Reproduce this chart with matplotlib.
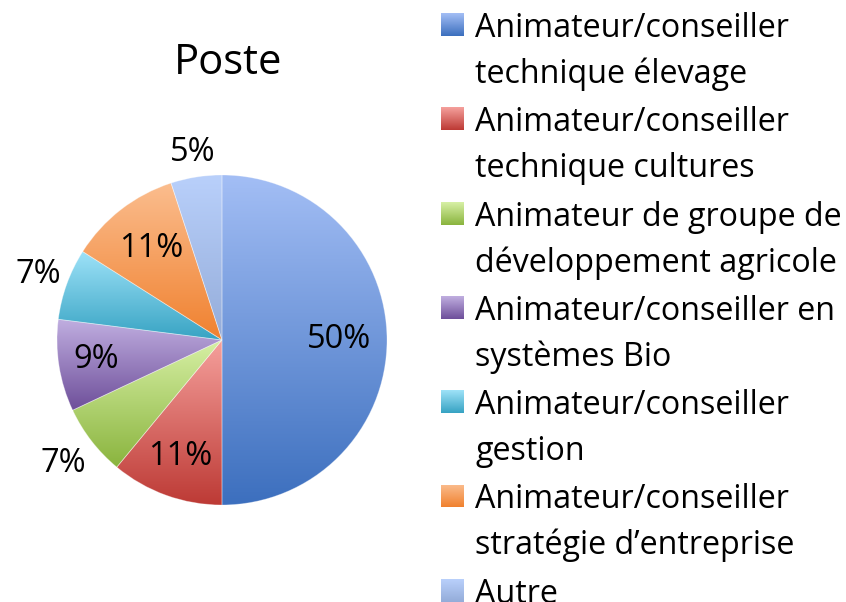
import numpy as np
import matplotlib
matplotlib.use('Agg')
import matplotlib.pyplot as plt
from matplotlib.colors import LinearSegmentedColormap

# Données
categories = [
    "Animateur/conseiller\ntechnique élevage",
    "Animateur/conseiller\ntechnique cultures",
    "Animateur de groupe de\ndéveloppement agricole",
    "Animateur/conseiller en\nsystèmes Bio",
    "Animateur/conseiller\ngestion",
    "Animateur/conseiller\nstratégie d’entreprise",
    "Autre",
]
values = [50, 11, 7, 9, 7, 11, 5]
# dégradés (haut, bas) façon Excel
top_colors = ['#a3bef5', '#f5a09c', '#d7f0a5', '#c0aee0', '#9ee2f8', '#fbbd8e', '#b9d0fb']
bottom_colors = ['#3c6fbe', '#bd3a35', '#8ab43e', '#6e4f9a', '#37a3c3', '#f0812f', '#94acd9']
label_dist = [0.71, 0.75, 1.22, 0.77, 1.18, 0.70, 1.15]

plt.rcParams['font.family'] = ['Open Sans', 'DejaVu Sans']

W, H = 846, 602
fig = plt.figure(figsize=(W / 100, H / 100), dpi=100)

def px(x, y):
    return x / W, 1 - y / H

# axe du camembert : centre (222, 340), rayon 165 px
cx, cy, r = 222, 340, 165
ax = fig.add_axes([(cx - r) / W, (H - cy - r) / H, 2 * r / W, 2 * r / H])
ax.axis('off')

wedges, _ = ax.pie(values, startangle=90, counterclock=False, radius=1,
                   wedgeprops=dict(linewidth=0))

grad = np.linspace(0, 1, 256).reshape(-1, 1)
for w, c0, c1 in zip(wedges, top_colors, bottom_colors):
    w.set_facecolor('none')
    bb = w.get_path().get_extents()
    cmap = LinearSegmentedColormap.from_list('g', [c1, c0])
    im = ax.imshow(grad, cmap=cmap, aspect='auto', origin='lower',
                   extent=[bb.x0, bb.x1, bb.y0, bb.y1], zorder=1)
    im.set_clip_path(w)
    w.set_edgecolor((1, 1, 1, 0.35))
    w.set_linewidth(0.6)
    w.set_zorder(2)
ax.set_xlim(-1, 1)
ax.set_ylim(-1, 1)

# étiquettes de pourcentage
for w, v, d in zip(wedges, values, label_dist):
    ang = np.deg2rad((w.theta1 + w.theta2) / 2)
    ax.text(d * np.cos(ang), d * np.sin(ang), f"{v}%", ha='center', va='center',
            fontsize=23.5, color='black', clip_on=False, zorder=3)

# titre
fig.text(*px(228, 63), "Poste", ha='center', va='center', fontsize=30)

# légende manuelle
lg_grad = np.linspace(0, 1, 64).reshape(-1, 1)
for i, (lab, c0, c1) in enumerate(zip(categories, top_colors, bottom_colors)):
    base = 37 + i * 94.3
    lines = lab.split('\n')
    for j, line in enumerate(lines):
        fig.text(*px(475, base + j * 46), line, ha='left', va='baseline', fontsize=23.2)
    sq = fig.add_axes([441 / W, (H - (base - 1)) / H, 23 / W, 23 / H])
    sq.imshow(lg_grad, cmap=LinearSegmentedColormap.from_list('g', [c1, c0]),
              aspect='auto', origin='lower')
    sq.axis('off')

fig.savefig('out.png', dpi=100)
